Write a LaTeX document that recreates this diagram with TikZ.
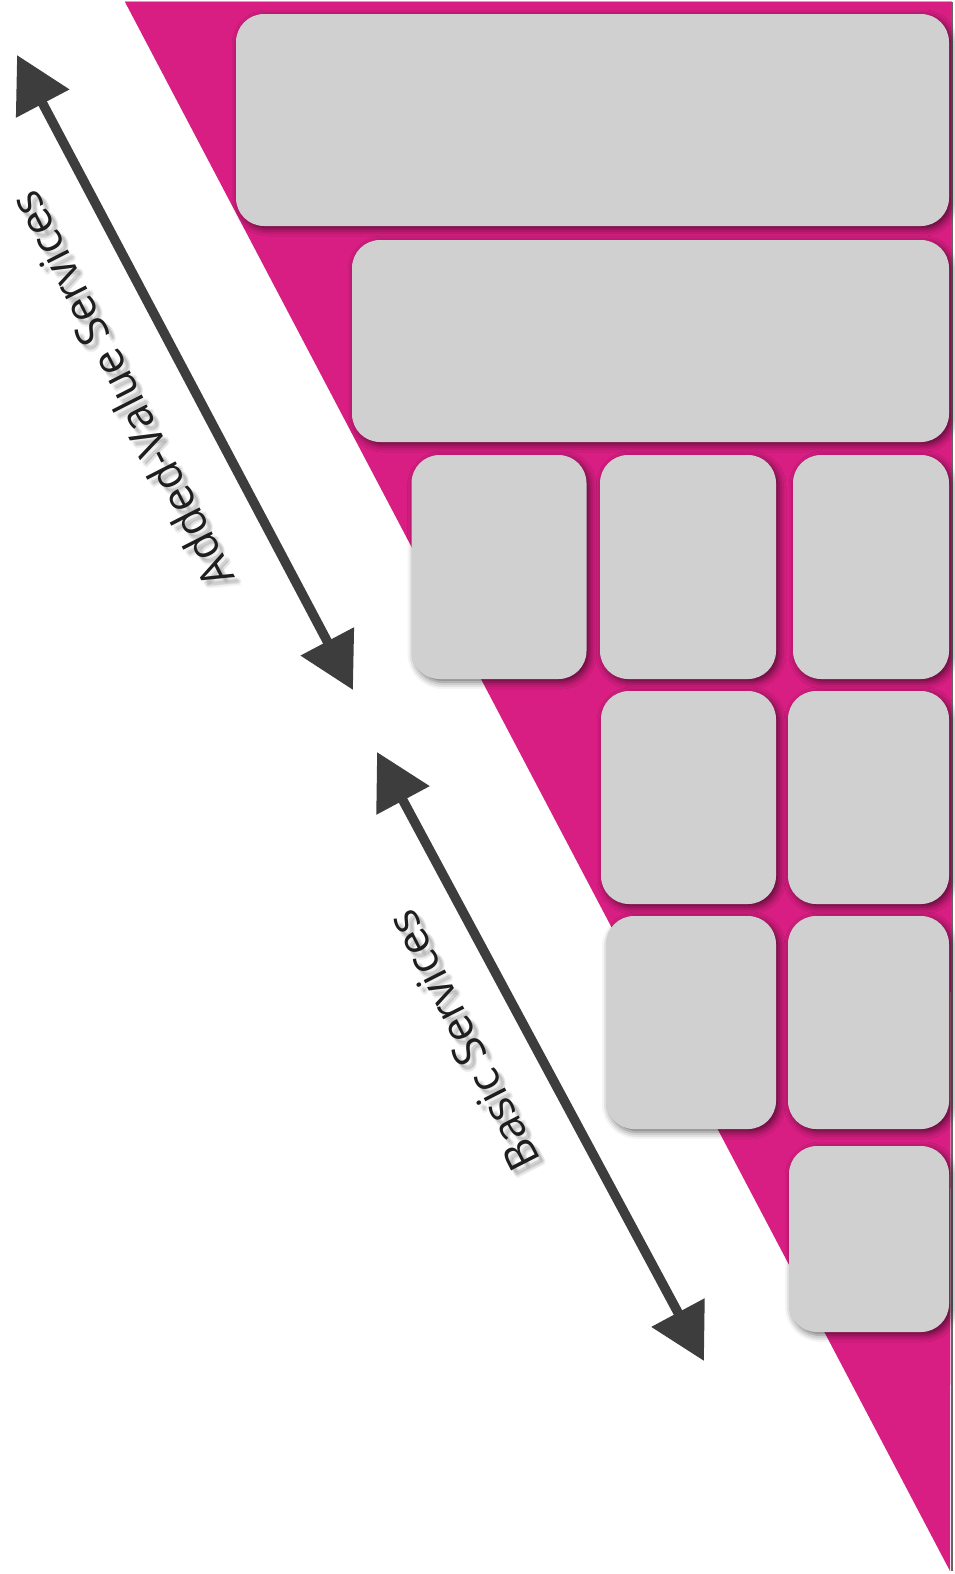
\documentclass[tikz,border=0pt]{standalone}
\usepackage{fontspec}
\newfontfamily\labelfont{Open Sans}
\usetikzlibrary{arrows.meta,shadows.blur}
\definecolor{wedge}{RGB}{216,30,130}
\definecolor{tilegray}{RGB}{209,208,209}
\definecolor{arrowgray}{RGB}{61,61,61}
\definecolor{inkgray}{RGB}{30,30,30}
\tikzset{
  tile/.style={rectangle, fill=tilegray, rounded corners=28pt, inner sep=0pt, outer sep=0pt,
    blur shadow={shadow xshift=3pt, shadow yshift=-3pt, shadow blur radius=7pt, shadow opacity=60}},
  span/.style={draw=arrowgray, line width=9.5pt,
    {Triangle[length=55pt,width=58pt]}-{Triangle[length=55pt,width=58pt]}},
  caption/.style={font=\labelfont\fontsize{44}{52}\selectfont, text=inkgray, rotate=117, inner sep=0pt},
  captionshade/.style={caption, text=black, opacity=0.06}
}
\newcommand{\tile}[6]{\node[tile, minimum width=#4pt, minimum height=#5pt] (#1) at (#2,#3) {#6};}
\begin{document}
\begin{tikzpicture}[x=1pt,y=-1pt]
\useasboundingbox (0,0) rectangle (955,1574);
% background wedge
\fill[wedge] (125,2) -- (952,2) -- (950,1571) -- cycle;
\draw[gray!60, line width=1pt] (125,1) -- (952,1);
\draw[gray!80!black, line width=2pt] (952,2) -- (952,1571);
% tiles
\tile{b1}{592.5}{120}{713}{212}{}
\tile{b2}{650.5}{341}{597}{202}{}
\tile{b3}{499}{567}{175}{224}{}
\tile{b4}{688}{567}{176}{224}{}
\tile{b5}{871}{567}{156}{224}{}
\tile{b6}{688.5}{797.5}{175}{213}{}
\tile{b7}{868.5}{797.5}{161}{213}{}
\tile{b8}{691}{1022.5}{170}{213}{}
\tile{b9}{868.5}{1022.5}{161}{213}{}
\tile{b10}{869}{1239}{160}{186}{}
% range arrows
\coordinate (avtop) at (17,55);
\coordinate (avbot) at (353,690);
\coordinate (bstop) at (377,752);
\coordinate (bsbot) at (704,1361);
\draw[span] (avtop) -- (avbot);
\draw[span] (bstop) -- (bsbot);
% captions, each over a soft drop shadow
\foreach \dx/\dy in {3/3,5/5,7/6,6/8,4/6,6/4} {
  \node[captionshade] at (121+\dx,390+\dy) {Added-Value Services};
  \node[captionshade] at (463+\dx,1041+\dy) {Basic Services};
}
\node[caption] (av) at (121,390) {Added-Value Services};
\node[caption] (bs) at (463,1041) {Basic Services};
\end{tikzpicture}
\end{document}
